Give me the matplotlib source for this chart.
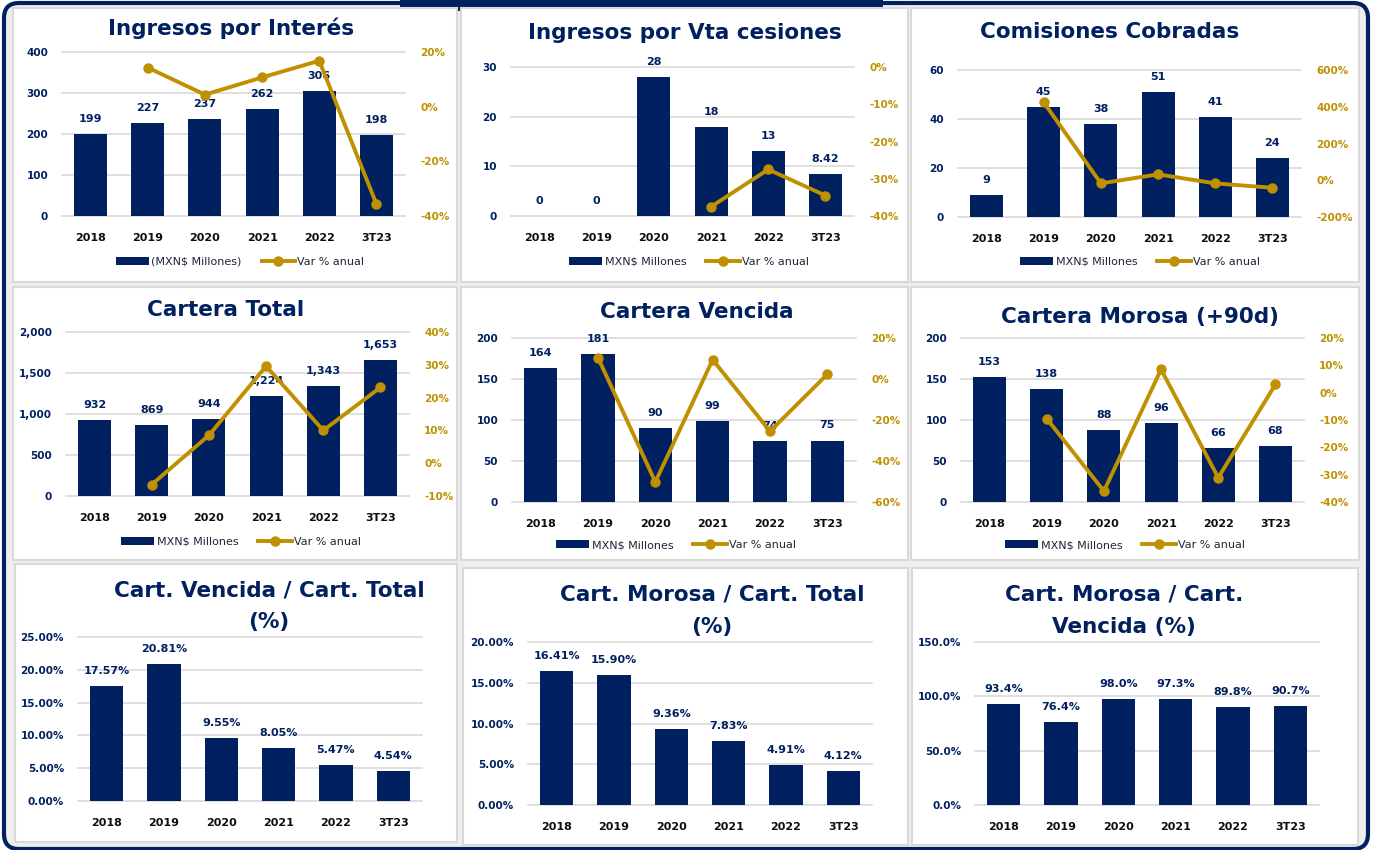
import numpy as np
import matplotlib
matplotlib.use("Agg")
import matplotlib.pyplot as plt
from matplotlib.patches import FancyBboxPatch, Rectangle, Patch
from matplotlib.lines import Line2D

W, H = 1373, 850
NAVY = '#002060'
GOLD = '#BF9000'
GRID = '#d9d9d9'

years = ['2018', '2019', '2020', '2021', '2022', '3T23']

ingresos_interes = [199, 227, 237, 262, 306, 198]
ingresos_interes_var = [np.nan, 14.3, 4.4, 10.7, 16.8, -35.6]

ingresos_cesiones = [0, 0, 28, 18, 13, 8.42]
ingresos_cesiones_var = [np.nan, np.nan, np.nan, -37.5, -27.5, -34.5]

comisiones = [9, 45, 38, 51, 41, 24]
comisiones_var = [np.nan, 424, -17, 32, -17, -41]

cartera_total = [932, 869, 944, 1224, 1343, 1653]
cartera_total_var = [np.nan, -6.5, 8.5, 29.6, 10.0, 23.1]

cartera_vencida = [164, 181, 90, 99, 74, 75]
cartera_vencida_var = [np.nan, 10.4, -50.2, 9.4, -25.5, 2.3]

cartera_morosa = [153, 138, 88, 96, 66, 68]
cartera_morosa_var = [np.nan, -9.5, -36.0, 8.5, -31.1, 3.0]

vencida_total = [17.57, 20.81, 9.55, 8.05, 5.47, 4.54]
morosa_total = [16.41, 15.90, 9.36, 7.83, 4.91, 4.12]
morosa_vencida = [93.4, 76.4, 98.0, 97.3, 89.8, 90.7]

plt.rcParams['font.family'] = ['DejaVu Sans']

fig = plt.figure(figsize=(W / 100, H / 100), dpi=100, facecolor='white')


def rect(l, t, r, b):
    return [l / W, 1 - b / H, (r - l) / W, (b - t) / H]


# background: outer frame, tab and panel boxes, in pixel units
bg = fig.add_axes([0, 0, 1, 1], zorder=-5)
bg.set_xlim(0, W)
bg.set_ylim(H, 0)
bg.axis('off')
bg.add_patch(FancyBboxPatch((4, 3), W - 9, H - 4, boxstyle='round,pad=0,rounding_size=15',
                            fc='#eeeeee', ec=NAVY, lw=3))
bg.add_patch(FancyBboxPatch((400, -20), 483, 31, boxstyle='round,pad=0,rounding_size=6',
                            fc=NAVY, ec='none'))
panels = [(13, 8, 457, 282), (461, 8, 908, 282), (911, 8, 1359, 282),
          (13, 287, 457, 560), (461, 287, 908, 560), (911, 287, 1359, 560),
          (15, 564, 457, 842), (463, 568, 908, 845), (912, 568, 1358, 845)]
for l, t, r, b in panels:
    bg.add_patch(Rectangle((l, t), r - l, b - t, fc='white', ec=GRID, lw=1.5))


def title(x, y, s):
    fig.text(x / W, 1 - y / H, s, ha='center', va='center', fontsize=15.5,
             fontweight='bold', color=NAVY, linespacing=1.75)


def base(box, vals, ymax, ystep, yfmt, lfmt):
    ax = fig.add_axes(rect(*box))
    x = np.arange(len(years))
    ax.bar(x, vals, width=0.58, color=NAVY, zorder=2)
    for xi, v in zip(x, vals):
        ax.annotate(lfmt(v), (xi, v), xytext=(0, 10), textcoords='offset pixels',
                    ha='center', va='bottom', fontsize=8, fontweight='bold', color=NAVY, zorder=3)
    ticks = np.arange(0, ymax + ystep / 2, ystep)
    for t in ticks:
        ax.axhline(t, color=GRID, lw=1.2, zorder=0, clip_on=False)
    ax.set_xlim(-0.5, len(years) - 0.5)
    ax.set_ylim(0, ymax)
    ax.set_yticks(ticks)
    ax.set_yticklabels([yfmt(t) for t in ticks])
    ax.set_xticks(x)
    ax.set_xticklabels(years)
    ax.tick_params(axis='y', length=0, pad=10, labelsize=7.5, labelcolor=NAVY)
    ax.tick_params(axis='x', length=0, pad=12, labelsize=8, labelcolor='#0d0d0d')
    for lab in ax.get_xticklabels() + ax.get_yticklabels():
        lab.set_fontweight('bold')
    for s in ax.spines.values():
        s.set_visible(False)
    ax.patch.set_alpha(0)
    return ax


def combo(box, vals, var, ymax, ystep, yfmt, lfmt, y2min, y2max, y2step, legpos, barname):
    ax = base(box, vals, ymax, ystep, yfmt, lfmt)
    ax2 = ax.twinx()
    ax2.plot(np.arange(len(years)), var, color=GOLD, lw=2.8, marker='o', ms=6.5, zorder=4)
    ax2.set_ylim(y2min, y2max)
    t2 = np.arange(y2min, y2max + y2step / 2, y2step)
    ax2.set_yticks(t2)
    ax2.set_yticklabels(['{:.0f}%'.format(t) for t in t2])
    ax2.tick_params(axis='y', length=0, pad=11, labelsize=7.5, labelcolor=GOLD)
    for lab in ax2.get_yticklabels():
        lab.set_fontweight('bold')
    for s in ax2.spines.values():
        s.set_visible(False)
    handles = [Patch(fc=NAVY, ec='none'),
               Line2D([], [], color=GOLD, lw=2.8, marker='o', ms=6.5)]
    ax2.legend(handles, [barname, 'Var % anual'], loc='center',
               bbox_to_anchor=(legpos[0] / W, 1 - legpos[1] / H), bbox_transform=fig.transFigure,
               ncol=2, frameon=False, fontsize=8, handlelength=3, handleheight=0.75,
               handletextpad=0.2, columnspacing=1.8, labelcolor='#1f2538')


intf = lambda v: '{:.0f}'.format(v)
gen = lambda v: '{:g}'.format(v)
comma = lambda v: '{:,.0f}'.format(v)
mxn = r'MXN\$ Millones'

combo((62, 52, 405, 216), ingresos_interes, ingresos_interes_var, 400, 100, intf, intf,
      -40, 20, 20, (240, 262), r'(MXN\$ Millones)')
title(231, 28, 'Ingresos por Interés')

combo((511, 67, 854, 216), ingresos_cesiones, ingresos_cesiones_var, 30, 10, intf, gen,
      -40, 0, 10, (689, 262), mxn)
title(685, 33, 'Ingresos por Vta cesiones')

combo((958, 70, 1301, 217), comisiones, comisiones_var, 60, 20, intf, intf,
      -200, 600, 200, (1140, 262), mxn)
title(1110, 32, 'Comisiones Cobradas')

combo((66, 332, 409, 496), cartera_total, cartera_total_var, 2000, 500, comma, comma,
      -10, 40, 10, (241, 542), mxn)
title(226, 310, 'Cartera Total')

combo((512, 338, 856, 502), cartera_vencida, cartera_vencida_var, 200, 50, intf, intf,
      -60, 20, 20, (676, 545), mxn)
title(697, 312, 'Cartera Vencida')

combo((961, 338, 1304, 502), cartera_morosa, cartera_morosa_var, 200, 50, intf, intf,
      -40, 20, 10, (1125, 545), mxn)
title(1140, 317, 'Cartera Morosa (+90d)')

pct2 = lambda v: '{:.2f}%'.format(v)
pct1 = lambda v: '{:.1f}%'.format(v)

base((78, 637, 422, 801), vencida_total, 25, 5, pct2, pct2)
title(269, 606, 'Cart. Vencida / Cart. Total\n(%)')

base((528, 642, 872, 805), morosa_total, 20, 5, pct2, pct2)
title(712, 611, 'Cart. Morosa / Cart. Total\n(%)')

base((975, 642, 1319, 805), morosa_vencida, 150, 50, pct1, pct1)
title(1124, 611, 'Cart. Morosa / Cart.\nVencida (%)')

fig.savefig('out.png', dpi=100, facecolor='white')
